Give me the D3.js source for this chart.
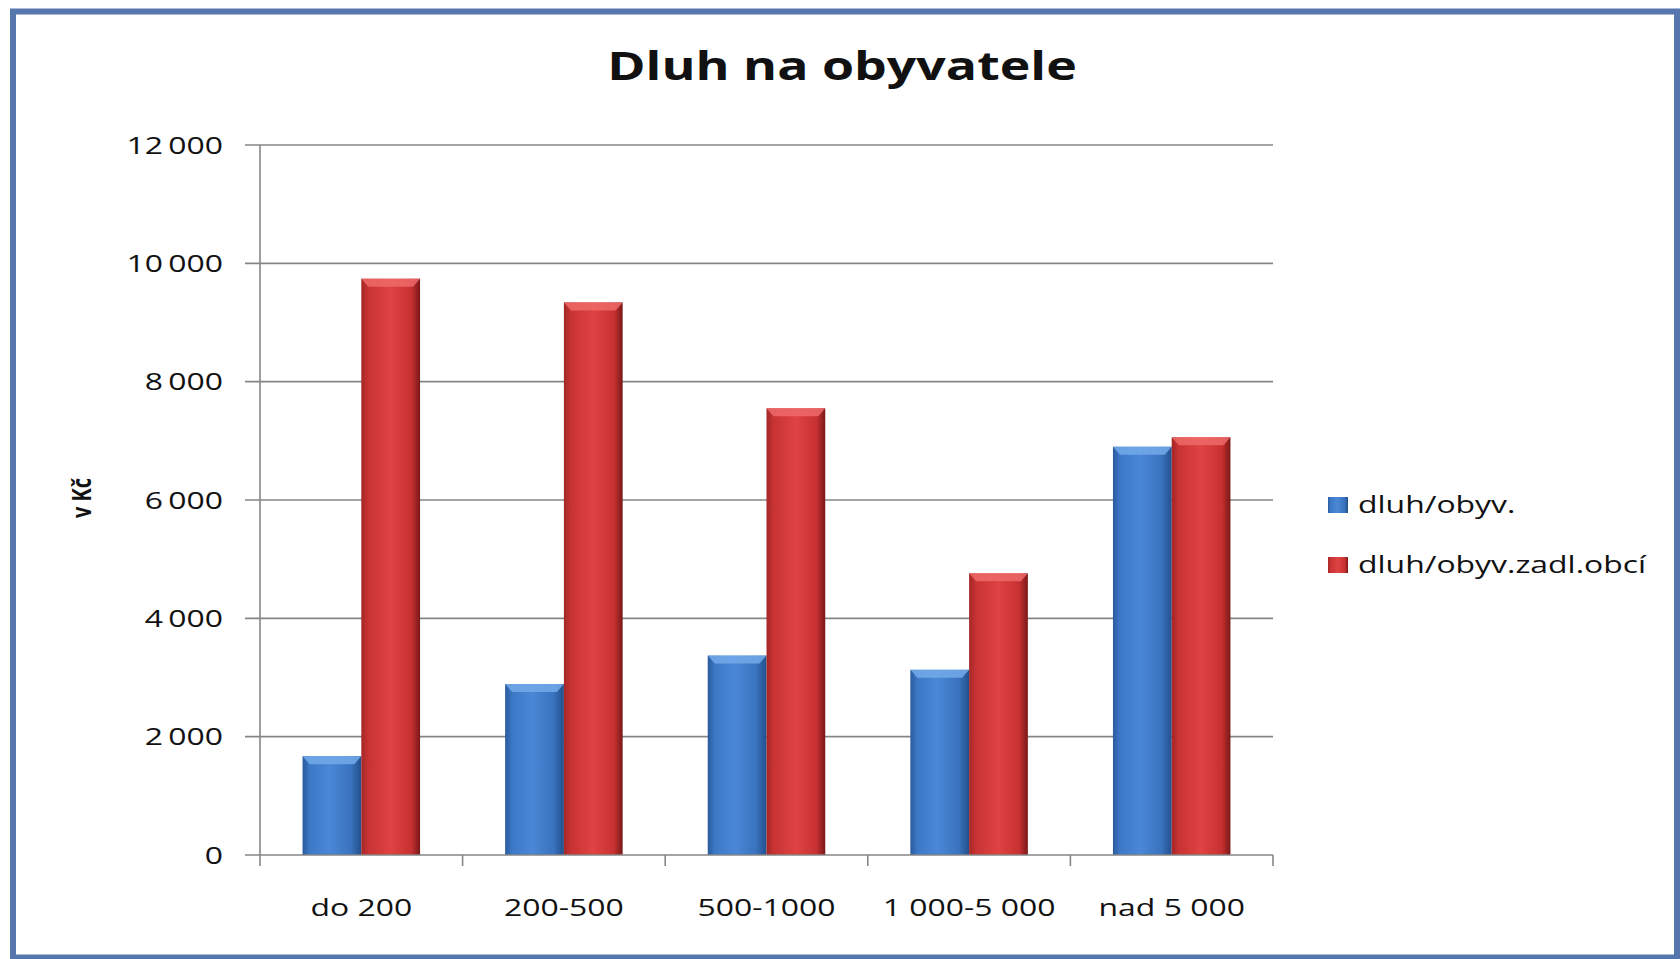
<!DOCTYPE html>
<html>
<head>
<meta charset="utf-8">
<script src="https://cdn.jsdelivr.net/npm/d3@7"></script>
<style>
  body { margin: 0; background: #fff; }
  svg text { font-family: "Open Sans", "Noto Sans", sans-serif; fill: #111; }
</style>
</head>
<body>
<div id="chart"></div>
<script>
// data
var categories = ["do 200", "200-500", "500-1000", "1 000-5 000", "nad 5 000"];
var seriesNames = ["dluh/obyv.", "dluh/obyv.zadl.obcí"];
var debtPerCapita = [1670, 2890, 3370, 3130, 6900];
var debtPerCapitaIndebted = [9740, 9340, 7550, 4760, 7060];
var yTicks = [0, 2000, 4000, 6000, 8000, 10000, 12000];

var width = 1680, height = 959;
var SX = 1.33; // the original picture is stretched sideways, so is the text

var svg = d3.select("#chart").append("svg")
    .attr("width", width)
    .attr("height", height);

var defs = svg.append("defs");

function hGrad(id, stops) {
  var g = defs.append("linearGradient").attr("id", id)
      .attr("x1", "0").attr("x2", "1").attr("y1", "0").attr("y2", "0");
  stops.forEach(function(s) {
    g.append("stop").attr("offset", s[0]).attr("stop-color", s[1]);
  });
}
hGrad("gBlue", [[0, "#2a5a9c"], [0.12, "#3b78c6"], [0.45, "#4a88d6"], [0.82, "#3a73bf"], [1, "#22508c"]]);
hGrad("gRed", [[0, "#a32727"], [0.12, "#c93333"], [0.5, "#df4242"], [0.85, "#c83131"], [1, "#7a1818"]]);

var fills = ["url(#gBlue)", "url(#gRed)"];
var capFills = ["#73aaea", "#ee6a6a"];

// frame
svg.append("rect")
    .attr("x", 13).attr("y", 11.5)
    .attr("width", 1664).attr("height", 946)
    .attr("fill", "#fff")
    .attr("stroke", "#5677ad")
    .attr("stroke-width", 6);

function stretchText(parent, x, y, str, size, weight, anchor) {
  return parent.append("text")
      .attr("transform", "translate(" + x + "," + y + ") scale(" + SX + ",1)")
      .attr("text-anchor", anchor || "start")
      .style("font-size", size + "px")
      .style("font-weight", weight || "normal")
      .text(str);
}

// title
stretchText(svg, 842, 80, "Dluh na obyvatele", 39, "bold", "middle");

var x0 = d3.scaleBand()
    .domain(categories)
    .range([260, 1273])
    .paddingInner(0.42)
    .paddingOuter(0.21);

var x1 = d3.scaleBand()
    .domain(seriesNames)
    .range([0, x0.bandwidth()]);

var y = d3.scaleLinear()
    .domain([0, 12000])
    .range([855, 145]);

var fmt = d3.formatLocale({ decimal: ",", thousands: "\u2009", grouping: [3], currency: ["", ""] }).format(",d");

// gridlines
svg.append("g")
  .selectAll("line")
  .data(yTicks.filter(function(d) { return d > 0; }))
  .join("line")
    .attr("x1", 245).attr("x2", 1273)
    .attr("y1", function(d) { return y(d); })
    .attr("y2", function(d) { return y(d); })
    .attr("stroke", "#868686")
    .attr("stroke-width", 1.6);

// bars
var rows = categories.map(function(c, i) {
  return { cat: c, values: [debtPerCapita[i], debtPerCapitaIndebted[i]] };
});

var groups = svg.append("g")
  .selectAll("g")
  .data(rows)
  .join("g")
    .attr("transform", function(d) { return "translate(" + x0(d.cat) + ",0)"; });

var bars = groups.selectAll("g")
  .data(function(d) { return d.values.map(function(v, k) { return { k: k, v: v }; }); })
  .join("g");

bars.append("rect")
    .attr("x", function(d) { return x1(seriesNames[d.k]); })
    .attr("y", function(d) { return y(d.v); })
    .attr("width", x1.bandwidth())
    .attr("height", function(d) { return y(0) - y(d.v); })
    .attr("fill", function(d) { return fills[d.k]; });

// little bevel on top of each bar
bars.append("path")
    .attr("d", function(d) {
      var bx = x1(seriesNames[d.k]), bw = x1.bandwidth(), by = y(d.v);
      return "M" + bx + "," + by + "H" + (bx + bw) + "L" + (bx + bw - 7) + "," + (by + 8) +
             "H" + (bx + 7) + "Z";
    })
    .attr("fill", function(d) { return capFills[d.k]; })
    .attr("opacity", 0.85);

// axes
svg.append("line")
    .attr("x1", 260).attr("x2", 260)
    .attr("y1", y(12000)).attr("y2", y(0))
    .attr("stroke", "#868686").attr("stroke-width", 1.6);
svg.append("line")
    .attr("x1", 245).attr("x2", 1273)
    .attr("y1", y(0)).attr("y2", y(0))
    .attr("stroke", "#868686").attr("stroke-width", 1.6);

// x ticks on the category boundaries
var half = (x0.step() - x0.bandwidth()) / 2;
var bounds = categories.map(function(c) { return x0(c) - half; })
    .concat([x0(categories[categories.length - 1]) + x0.bandwidth() + half]);
svg.append("g")
  .selectAll("line")
  .data(bounds)
  .join("line")
    .attr("x1", function(d) { return d; })
    .attr("x2", function(d) { return d; })
    .attr("y1", y(0)).attr("y2", y(0) + 11)
    .attr("stroke", "#868686").attr("stroke-width", 1.6);

// y tick labels
var yl = svg.append("g");
yTicks.forEach(function(t) {
  stretchText(yl, 223, y(t) + 8.5, fmt(t), 24, "normal", "end");
});

// x tick labels
var xl = svg.append("g");
categories.forEach(function(c) {
  stretchText(xl, x0(c) + x0.bandwidth() / 2, 916, c, 24, "normal", "middle");
});

// y axis title
svg.append("text")
    .attr("transform", "translate(91,498) scale(" + SX + ",1) rotate(-90)")
    .attr("text-anchor", "middle")
    .style("font-size", "20px")
    .style("font-weight", "bold")
    .text("v Kč");

// legend
var legend = svg.append("g")
  .selectAll("g")
  .data(seriesNames)
  .join("g")
    .attr("transform", function(d, i) { return "translate(1328," + (497 + i * 60) + ")"; });

legend.append("rect")
    .attr("width", 20).attr("height", 16)
    .attr("fill", function(d, i) { return fills[i]; });

legend.each(function(d) {
  stretchText(d3.select(this), 30, 16, d, 24, "normal", "start");
});
</script>
</body>
</html>
